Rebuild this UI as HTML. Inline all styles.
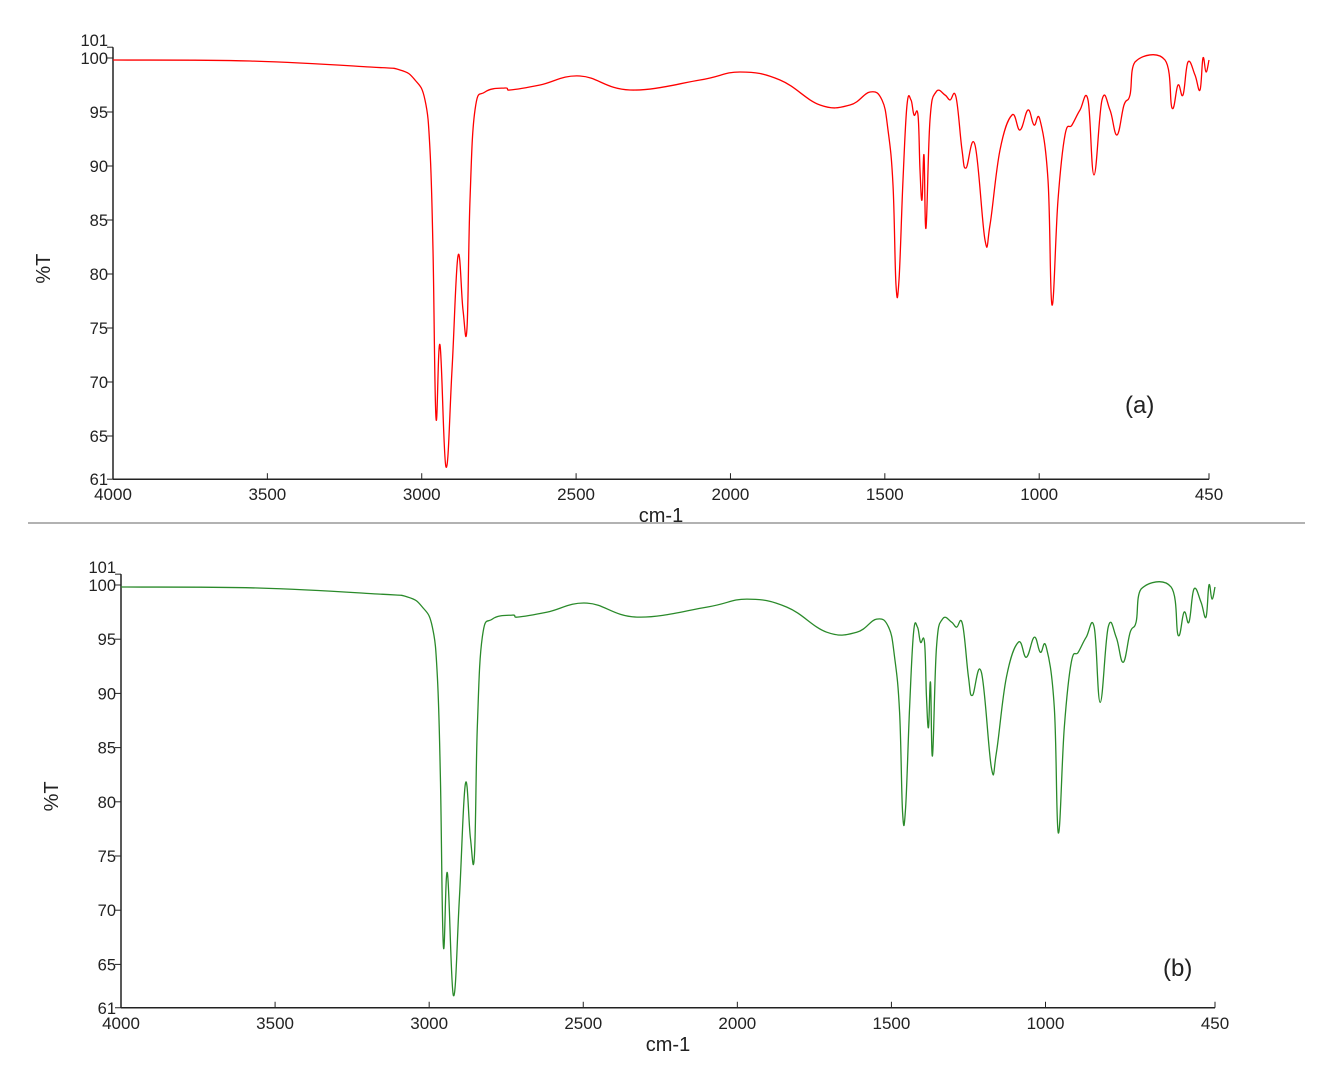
<!DOCTYPE html>
<html><head><meta charset="utf-8"><style>
body{margin:0;background:#fff}
svg text{font-family:"Liberation Sans",sans-serif;fill:#222}
</style></head><body>
<svg id="s" width="1334" height="1072" xmlns="http://www.w3.org/2000/svg">
<line x1="28" y1="523" x2="1305" y2="523" stroke="#999" stroke-width="1.5"/>
<g id="top"></g><g id="bot"></g>
</svg>
<script>
var P=[[113,60],[250,61],[370,67],[400,70],[415,80],[425,100],[430,150],[433,250],[436,418],[440,345],[446,467],[452,370],[458,256],[463,310],[467,328],[470,200],[475,110],[485,92],[505,88],[510,90],[540,85],[580,76],[630,90],[700,80],[740,72],[780,80],[820,105],[850,105],[870,92],[882,100],[888,130],[893,185],[896,285],[899,280],[903,180],[907,105],[911,100],[914,115],[918,115],[920,170],[922,200],[924,155],[926,228],[930,120],[936,92],[945,95],[950,100],[956,97],[962,150],[966,168],[975,145],[985,240],[990,225],[1000,150],[1012,115],[1020,130],[1028,110],[1034,125],[1040,120],[1048,180],[1052,305],[1058,200],[1065,135],[1072,125],[1080,110],[1088,100],[1094,175],[1102,100],[1110,110],[1117,135],[1124,105],[1130,95],[1135,62],[1165,60],[1172,108],[1178,85],[1183,95],[1188,62],[1195,75],[1200,90],[1203,58],[1206,72],[1209,60]];
function smooth(a){var d='M'+a[0][0].toFixed(1)+','+a[0][1].toFixed(1);
 for(var i=0;i<a.length-1;i++){var p0=a[i-1]||a[i],p1=a[i],p2=a[i+1],p3=a[i+2]||p2;var t=0.2;
  var c1x=p1[0]+(p2[0]-p0[0])*t,c1y=p1[1]+(p2[1]-p0[1])*t,c2x=p2[0]-(p3[0]-p1[0])*t,c2y=p2[1]-(p3[1]-p1[1])*t;
  c1x=Math.min(Math.max(c1x,p1[0]),p2[0]);c2x=Math.min(Math.max(c2x,p1[0]),p2[0]);
  d+=' C'+c1x.toFixed(1)+','+c1y.toFixed(1)+' '+c2x.toFixed(1)+','+c2y.toFixed(1)+' '+p2[0].toFixed(1)+','+p2[1].toFixed(1);}
 return d;}
function draw(g,x0,x1,y100,ux,col,lab,ly){
 var h='';var ax=x0,ay=y100+39*ux;
 var pts=P.map(function(p){return [(p[0]-113)*(x1-x0)/1096+x0,(p[1]-58)*ux/10.8+y100]});
 h+='<line x1="'+ax+'" y1="'+(y100-ux)+'" x2="'+ax+'" y2="'+ay+'" stroke="#222" stroke-width="1.5"/>';
 h+='<line x1="'+ax+'" y1="'+ay+'" x2="'+x1+'" y2="'+ay+'" stroke="#222" stroke-width="1.5"/>';
 [101,100,95,90,85,80,75,70,65,61].forEach(function(v){var y=y100+(100-v)*ux;
  h+='<line x1="'+(ax-6)+'" y1="'+y+'" x2="'+ax+'" y2="'+y+'" stroke="#222"/>';
  var dy=v==101?-1:(v==100?6:6);
  h+='<text x="'+(ax-5)+'" y="'+(y+dy)+'" font-size="16.5" text-anchor="end">'+v+'</text>';});
 [4000,3500,3000,2500,2000,1500,1000,450].forEach(function(w){var x=x0+(4000-w)*(x1-x0)/3550;
  h+='<line x1="'+x+'" y1="'+(ay-6)+'" x2="'+x+'" y2="'+ay+'" stroke="#222"/>';
  h+='<text x="'+x+'" y="'+(ay+21)+'" font-size="17" text-anchor="middle">'+w+'</text>';});
 h+='<text x="'+((x0+x1)/2)+'" y="'+(ay+43)+'" font-size="20" text-anchor="middle">cm-1</text>';
 var my=(y100+ay)/2;
 h+='<text transform="translate('+(x0-63)+','+my+') rotate(-90)" font-size="20" text-anchor="middle">%T</text>';
 h+='<path d="'+smooth(pts)+'" fill="none" stroke="'+col+'" stroke-width="1.3"/>';
 h+='<text x="'+lab[0]+'" y="'+lab[1]+'" font-size="24">'+ly+'</text>';
 document.getElementById(g).innerHTML=h;
}
draw('top',113,1209,58,10.8,'#f00',[1125,413],'(a)');
draw('bot',121,1215,585,10.84,'#2a8a2a',[1163,976],'(b)');
</script>
</body></html>
